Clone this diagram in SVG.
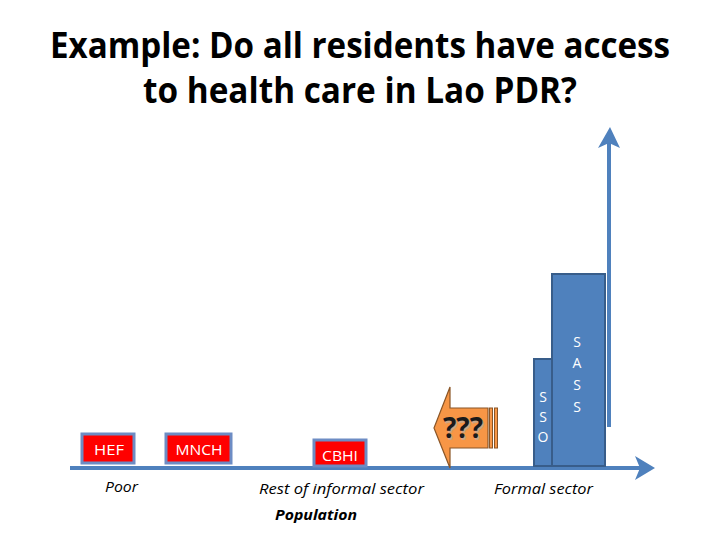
<svg xmlns="http://www.w3.org/2000/svg" width="720" height="540" viewBox="0 0 720 540">
<style>
.title{font-family:"Open Sans","Liberation Sans",sans-serif;font-size:35px;font-weight:bold;fill:#000;text-anchor:middle}
.box{fill:#FF0000;stroke:#6D8CC4;stroke-width:3}
.btxt{font-family:"Open Sans","Liberation Sans",sans-serif;font-size:15px;fill:#fff;text-anchor:middle}
.bar{fill:#4F81BD;stroke:#385D8A;stroke-width:2}
.ax{stroke:#4F81BD;stroke-width:4;fill:none}
.lbl{font-family:"Open Sans","Liberation Sans",sans-serif;font-size:15px;font-style:italic;fill:#000;text-anchor:middle}
.vt{font-family:"Open Sans","Liberation Sans",sans-serif;font-size:14px;fill:#fff;text-anchor:middle}
</style>
<rect width="720" height="540" fill="#fff"/>
<text class="title" x="360" y="58" textLength="620" lengthAdjust="spacingAndGlyphs">Example: Do all residents have access</text>
<text class="title" x="360" y="103" textLength="434" lengthAdjust="spacingAndGlyphs">to health care in Lao PDR?</text>
<g id="connectors">
<line class="ax" x1="70" y1="468" x2="640" y2="468"/>
<polygon points="635,456 655,468 635,480 640,468" fill="#4F81BD"/>
<line class="ax" x1="609" y1="427" x2="609" y2="140"/>
<polygon points="598,148 610,127 620,148 609,143" fill="#4F81BD"/>
</g>
<g id="sso">
<rect class="bar" x="534" y="359" width="18" height="107"/>
<text class="vt" x="543" y="402">S</text>
<text class="vt" x="543" y="422">S</text>
<text class="vt" x="543" y="442">O</text>
</g>
<g id="sass">
<rect class="bar" x="552" y="274" width="53" height="192"/>
<text class="vt" x="577" y="347">S</text>
<text class="vt" x="577" y="368">A</text>
<text class="vt" x="577" y="390">S</text>
<text class="vt" x="577" y="412">S</text>
</g>
<g id="hef">
<rect class="box" x="82" y="434" width="52" height="29"/>
<text class="btxt" x="109" y="455" textLength="30" lengthAdjust="spacingAndGlyphs">HEF</text>
</g>
<g id="mnch">
<rect class="box" x="166" y="434" width="65" height="29"/>
<text class="btxt" x="199" y="455" textLength="47" lengthAdjust="spacingAndGlyphs">MNCH</text>
</g>
<g id="cbhi">
<rect class="box" x="314" y="440" width="52" height="26"/>
<text class="btxt" x="340" y="461" textLength="36" lengthAdjust="spacingAndGlyphs">CBHI</text>
</g>
<g id="unknown">
<polygon points="434,428 450,387 450,408 488,408 488,448 450,448 450,468" fill="#F79646" stroke="#8A5526" stroke-width="1.2"/>
<rect x="489.5" y="408" width="3" height="40" fill="#F79646" stroke="#8A5526" stroke-width="1"/>
<rect x="494.5" y="408" width="3" height="40" fill="#F79646" stroke="#8A5526" stroke-width="1"/>
<text x="464.5" y="439.5" font-family="'Open Sans','Liberation Sans',sans-serif" font-size="28" font-weight="bold" fill="#B0B0B0" text-anchor="middle" opacity="0.6" textLength="40" lengthAdjust="spacingAndGlyphs">???</text>
<text x="463" y="438" font-family="'Open Sans','Liberation Sans',sans-serif" font-size="28" font-weight="bold" fill="#1a1a1a" text-anchor="middle" textLength="40" lengthAdjust="spacingAndGlyphs">???</text>
</g>
<text class="lbl" x="121.5" y="492" textLength="33" lengthAdjust="spacingAndGlyphs">Poor</text>
<text class="lbl" x="341.5" y="494" textLength="165" lengthAdjust="spacingAndGlyphs">Rest of informal sector</text>
<text class="lbl" x="543.5" y="494" textLength="99" lengthAdjust="spacingAndGlyphs">Formal sector</text>
<text class="lbl" x="316" y="520" font-weight="bold" textLength="82" lengthAdjust="spacingAndGlyphs">Population</text>
</svg>
